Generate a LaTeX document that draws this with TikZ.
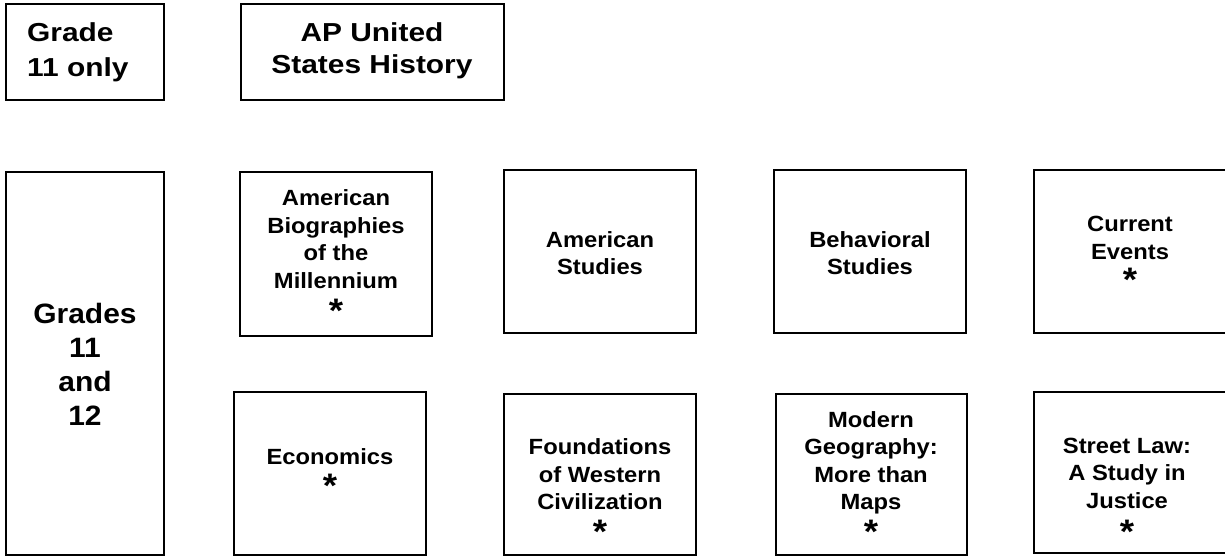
\documentclass[tikz,border=0pt]{standalone}
\usepackage{fontspec}
\setmainfont{Liberation Sans}
\newfontfamily\fa{Liberation Sans}[FakeStretch=1.08]
\newfontfamily\fb{Liberation Sans}[FakeStretch=1.15]
\newfontfamily\fc{Liberation Sans}[FakeStretch=1.07]
\newcommand\boxnode[5]{\node[boxsty, minimum width={#4-#2}, minimum height={#5-#3}] (#1) at ({(#2+#4)/2},{(#3+#5)/2}) {};}
\tikzset{
  boxsty/.style={draw=black, line width=2.6pt, rectangle, inner sep=0pt},
  lbl/.style={inner sep=0pt, align=center, anchor=base, font=\fa\bfseries\fontsize{22}{27.5}\selectfont},
  toplbl/.style={inner sep=0pt, anchor=base, font=\fb\bfseries\fontsize{26}{34}\selectfont},
  biglbl/.style={inner sep=0pt, align=center, anchor=base, font=\fc\bfseries\fontsize{28}{33.7}\selectfont},
  aststy/.style={inner sep=0pt, anchor=base, font=\fa\bfseries\fontsize{34}{34}\selectfont},
}
\begin{document}
\begin{tikzpicture}[x=1pt,y=-1pt]
\useasboundingbox (0,0) rectangle (1225,556);
% boxes
\boxnode{g11}{6}{4}{164}{100}
\boxnode{ap}{241}{4}{504}{100}
\boxnode{g1112}{6}{172}{164}{555}
\boxnode{bio}{240}{172}{432}{336}
\boxnode{amst}{504}{170}{696}{333}
\boxnode{beh}{774}{170}{966}{333}
\boxnode{cur}{1034}{170}{1228}{333}
\boxnode{eco}{234}{392}{426}{555}
\boxnode{fou}{504}{394}{696}{555}
\boxnode{geo}{776}{394}{967}{555}
\boxnode{law}{1034}{392}{1228}{553}
% texts (anchor base = baseline of the last line)
\node[toplbl, align=left, anchor=base west] (g11t) at (27,77) {Grade\\[1pt]11 only};
\node[toplbl, align=center] (apt) at (372,74) {AP United\\[-2pt]States History};
\node[biglbl] (g1112t) at (85,425) {Grades\\11\\and\\12};
\node[lbl] (biot) at (336,288) {American\\Biographies\\of the\\Millennium};
\node[lbl] (amstt) at (600,274.5) {American\\Studies};
\node[lbl] (beht) at (870,274.5) {Behavioral\\Studies};
\node[lbl] (curt) at (1130,259) {Current\\Events};
\node[lbl] (ecot) at (330,464) {Economics};
\node[lbl] (fout) at (600,509.5) {Foundations\\of Western\\Civilization};
\node[lbl] (geot) at (871,509.5) {Modern\\Geography:\\More than\\Maps};
\node[lbl] (lawt) at (1127,508) {Street Law:\\A Study in\\Justice};
% asterisks
\node[aststy] (bioa) at (336,322) {*};
\node[aststy] (cura) at (1130,291) {*};
\node[aststy] (ecoa) at (330,497) {*};
\node[aststy] (foua) at (600,543) {*};
\node[aststy] (geoa) at (871,543) {*};
\node[aststy] (lawa) at (1127,543) {*};
\end{tikzpicture}
\end{document}
